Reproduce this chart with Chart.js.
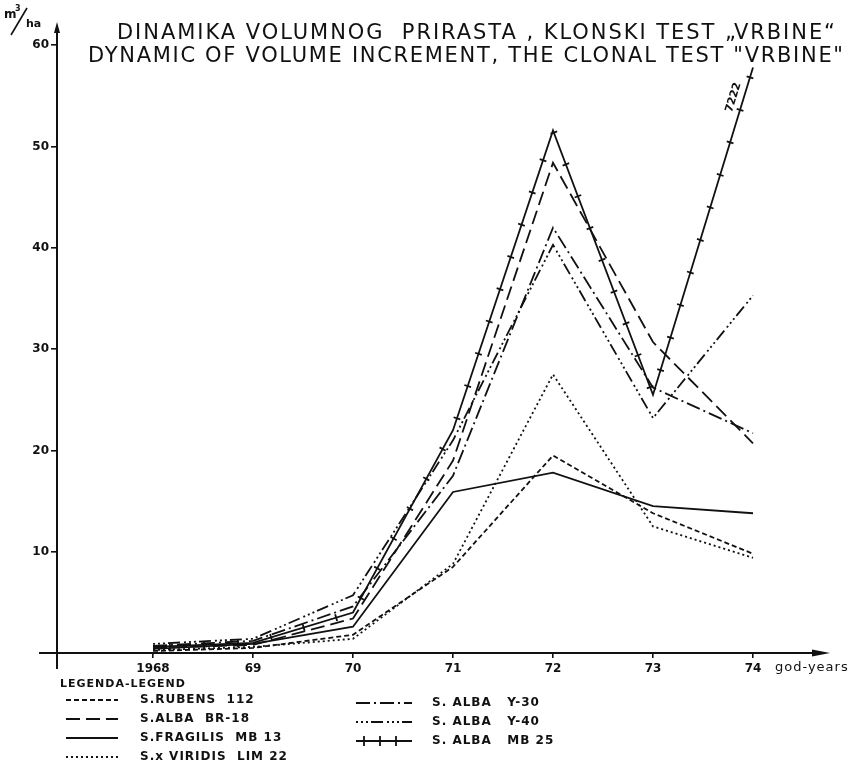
<!DOCTYPE html>
<html>
<head>
<meta charset="utf-8">
<script src="https://cdn.jsdelivr.net/npm/chart.js@4.4.1/dist/chart.umd.min.js"></script>
<style>
  html, body { margin: 0; padding: 0; background: #fff; }
</style>
</head>
<body>
<canvas id="chart" width="859" height="764"></canvas>
<script>
// years on the x axis and how they are printed
const years = [1968, 1969, 1970, 1971, 1972, 1973, 1974];
const yearLabels = ['1968', '69', '70', '71', '72', '73', '74'];
const yTicks = [10, 20, 30, 40, 50, 60];

// volume increment, m3/ha
const rubens112 = [0.2, 0.5, 1.8, 8.5, 19.5, 13.8, 9.8];
const albaBR18 = [0.5, 0.8, 3.4, 19.0, 48.4, 30.7, 20.7];
const fragilisMB13 = [0.4, 0.9, 2.6, 15.9, 17.8, 14.5, 13.8];
const viridisLIM22 = [0.3, 0.6, 1.4, 8.8, 27.5, 12.5, 9.4];
const albaY30 = [0.7, 1.2, 4.6, 17.5, 42.0, 26.2, 21.7];
const albaY40 = [0.9, 1.4, 5.7, 21.0, 40.3, 23.2, 35.3];
const albaMB25 = [0.6, 1.0, 4.0, 22.0, 51.6, 25.5, 57.8];

const seriesNames = ['S.RUBENS  112', 'S.ALBA  BR-18', 'S.FRAGILIS  MB 13', 'S.x VIRIDIS  LIM 22',
                     'S. ALBA   Y-30', 'S. ALBA   Y-40', 'S. ALBA   MB 25'];
const titleLines = ['DINAMIKA VOLUMNOG  PRIRASTA , KLONSKI TEST \u201EVRBINE\u201C',
                    'DYNAMIC OF VOLUME INCREMENT, THE CLONAL TEST "VRBINE"'];

const INK = '#111';
const toPoints = arr => arr.map((v, i) => ({ x: years[i], y: v }));

function makeSet(name, values, dash, extra) {
    return Object.assign({
        label: name,
        data: toPoints(values),
        borderColor: INK,
        borderWidth: 1.8,
        borderDash: dash,
        pointRadius: 0,
        tension: 0,
        fill: false
    }, extra || {});
}

const datasets = [
    makeSet(seriesNames[0], rubens112, [5, 3]),
    makeSet(seriesNames[1], albaBR18, [14, 6]),
    makeSet(seriesNames[2], fragilisMB13, []),
    makeSet(seriesNames[3], viridisLIM22, [2, 3]),
    makeSet(seriesNames[4], albaY30, [14, 4, 2, 4]),
    makeSet(seriesNames[5], albaY40, [2, 3, 2, 3, 2, 3, 12, 4]),
    makeSet(seriesNames[6], albaMB25, [], { crossTicks: true })
];

// little cross bars along a polyline
function drawCrossTicks(ctx, pts, spacing, half) {
    ctx.save();
    ctx.setLineDash([]);
    ctx.lineWidth = 1.8;
    ctx.strokeStyle = INK;
    let carry = spacing / 2;
    for (let i = 0; i < pts.length - 1; i++) {
        const a = pts[i], b = pts[i + 1];
        const len = Math.hypot(b.x - a.x, b.y - a.y);
        const ux = (b.x - a.x) / len, uy = (b.y - a.y) / len;
        let d = carry;
        while (d < len) {
            const px = a.x + ux * d, py = a.y + uy * d;
            ctx.beginPath();
            ctx.moveTo(px - uy * half, py + ux * half);
            ctx.lineTo(px + uy * half, py - ux * half);
            ctx.stroke();
            d += spacing;
        }
        carry = d - len;
    }
    ctx.restore();
}

function fitText(ctx, text, x1, x2, y) {
    ctx.letterSpacing = '0px';
    const w = ctx.measureText(text).width;
    ctx.letterSpacing = ((x2 - x1 - w) / (text.length - 1)) + 'px';
    ctx.textAlign = 'left';
    ctx.fillText(text, x1, y);
    ctx.letterSpacing = '0px';
}

const decorations = {
    id: 'decorations',
    afterDatasetsDraw(chart) {
        const ctx = chart.ctx;
        const { left, right, top, bottom } = chart.chartArea;
        const xs = chart.scales.x;

        // axes with arrows
        ctx.save();
        ctx.strokeStyle = INK;
        ctx.fillStyle = INK;
        ctx.lineWidth = 2;
        ctx.beginPath();
        ctx.moveTo(left, bottom + 16);
        ctx.lineTo(left, top + 6);
        ctx.moveTo(left - 18, bottom);
        ctx.lineTo(right - 10, bottom);
        ctx.stroke();
        ctx.beginPath();
        ctx.moveTo(left, top);
        ctx.lineTo(left - 3, top + 11);
        ctx.lineTo(left + 3, top + 11);
        ctx.closePath();
        ctx.fill();
        ctx.beginPath();
        ctx.moveTo(right, bottom);
        ctx.lineTo(right - 18, bottom - 3.5);
        ctx.lineTo(right - 18, bottom + 3.5);
        ctx.closePath();
        ctx.fill();

        // cross ticks on MB 25
        chart.data.datasets.forEach((ds, i) => {
            if (!ds.crossTicks) return;
            const pts = chart.getDatasetMeta(i).data.map(p => ({ x: p.x, y: p.y }));
            drawCrossTicks(ctx, pts, 34, 3.5);

            // the handwritten "7222" along the last segment
            const a = pts[pts.length - 2], b = pts[pts.length - 1];
            const ang = Math.atan2(b.y - a.y, b.x - a.x);
            const t = 0.9;
            const mx = a.x + (b.x - a.x) * t, my = a.y + (b.y - a.y) * t;
            ctx.save();
            ctx.translate(mx + Math.sin(ang) * 10, my - Math.cos(ang) * 10);
            ctx.rotate(ang);
            ctx.font = 'bold 11px "DejaVu Sans"';
            ctx.textAlign = 'center';
            ctx.textBaseline = 'middle';
            ctx.fillText('7222', 0, 0);
            ctx.restore();
        });

        // title
        ctx.textBaseline = 'middle';
        ctx.font = '21px "DejaVu Sans"';
        fitText(ctx, titleLines[0], 117, 835, 34);
        fitText(ctx, titleLines[1], 88, 843, 57);

        // unit
        ctx.font = 'bold 12px "DejaVu Sans"';
        ctx.textAlign = 'left';
        ctx.fillText('m', 4, 15);
        ctx.font = 'bold 8px "DejaVu Sans"';
        ctx.fillText('3', 15, 9);
        ctx.lineWidth = 1.6;
        ctx.beginPath();
        ctx.moveTo(11, 35);
        ctx.lineTo(27, 8);
        ctx.stroke();
        ctx.font = 'bold 11px "DejaVu Sans"';
        ctx.fillText('ha', 26, 24);

        // x axis name
        ctx.font = '13px "DejaVu Sans"';
        ctx.letterSpacing = '1px';
        ctx.fillText('god-years', xs.getPixelForValue(years[years.length - 1]) + 22, 668);
        ctx.letterSpacing = '0px';

        // legend
        ctx.font = 'bold 11px "DejaVu Sans"';
        ctx.letterSpacing = '1px';
        ctx.fillText('LEGENDA-LEGEND', 60, 684);
        const rows = [
            { x1: 66, x2: 118, tx: 140, y: 700 },
            { x1: 66, x2: 118, tx: 140, y: 719 },
            { x1: 66, x2: 118, tx: 140, y: 738 },
            { x1: 66, x2: 118, tx: 140, y: 757 },
            { x1: 356, x2: 412, tx: 432, y: 703 },
            { x1: 356, x2: 412, tx: 432, y: 722 },
            { x1: 356, x2: 412, tx: 432, y: 741 }
        ];
        ctx.font = 'bold 12px "DejaVu Sans"';
        ctx.letterSpacing = '1px';
        chart.data.datasets.forEach((ds, i) => {
            const r = rows[i];
            ctx.save();
            ctx.setLineDash(ds.borderDash || []);
            ctx.lineWidth = 1.8;
            ctx.beginPath();
            ctx.moveTo(r.x1, r.y);
            ctx.lineTo(r.x2, r.y);
            ctx.stroke();
            ctx.restore();
            if (ds.crossTicks) drawCrossTicks(ctx, [{ x: r.x1, y: r.y }, { x: r.x2, y: r.y }], 16, 5);
            ctx.fillText(ds.label, r.tx, r.y);
        });
        ctx.letterSpacing = '0px';
        ctx.restore();
    }
};

const config = {
    type: 'line',
    data: { datasets: datasets },
    options: {
        responsive: false,
        animation: false,
        layout: { padding: { left: 0, right: 29, top: 22, bottom: 0 } },
        plugins: {
            legend: { display: false },
            title: { display: false },
            tooltip: { enabled: false }
        },
        scales: {
            x: {
                type: 'linear',
                min: 1967.04,
                max: 1974.77,
                afterBuildTicks: scale => { scale.ticks = years.map(v => ({ value: v })); },
                afterFit: scale => { scale.height = 111; },
                border: { display: false },
                grid: { drawOnChartArea: false, color: INK, lineWidth: 1.6, tickLength: 5 },
                ticks: {
                    color: INK,
                    padding: 4,
                    maxRotation: 0,
                    font: { family: 'DejaVu Sans', size: 12, weight: 'bold' },
                    callback: (value, index) => yearLabels[index]
                }
            },
            y: {
                min: 0,
                max: 62.3,
                afterBuildTicks: scale => { scale.ticks = yTicks.map(v => ({ value: v })); },
                afterFit: scale => { scale.width = 57; },
                border: { display: false },
                grid: { drawOnChartArea: false, color: INK, lineWidth: 1.6, tickLength: 6 },
                ticks: {
                    color: INK,
                    padding: 2,
                    font: { family: 'DejaVu Sans', size: 12, weight: 'bold' }
                }
            }
        }
    },
    plugins: [decorations]
};

const volumeChart = new Chart(document.getElementById('chart').getContext('2d'), config);
</script>
</body>
</html>
